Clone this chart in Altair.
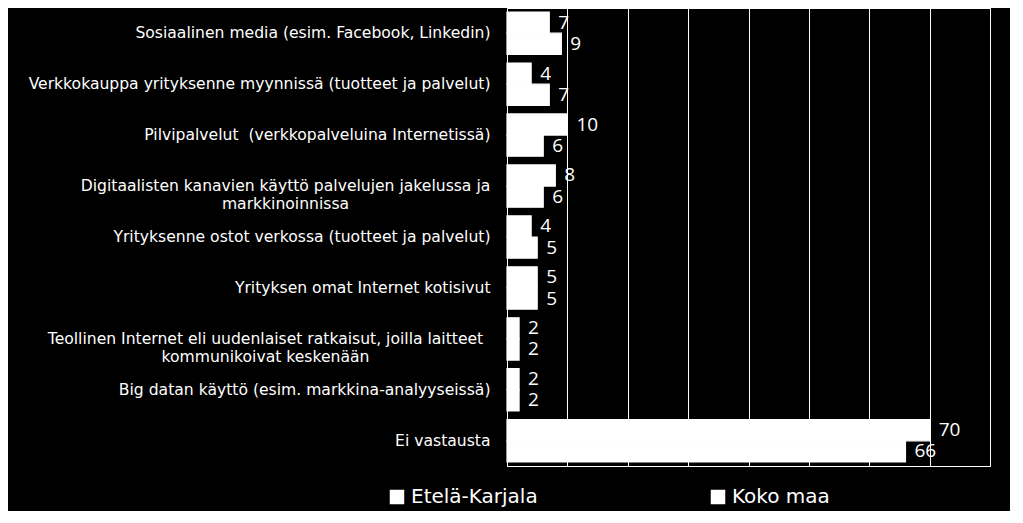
import altair as alt
import pandas as pd

categories = [
    "Sosiaalinen media (esim. Facebook, Linkedin)",
    "Verkkokauppa yrityksenne myynnissä (tuotteet ja palvelut)",
    "Pilvipalvelut\u00a0 (verkkopalveluina Internetissä)",
    "Digitaalisten kanavien käyttö palvelujen jakelussa ja|markkinoinnissa",
    "Yrityksenne ostot verkossa (tuotteet ja palvelut)",
    "Yrityksen omat Internet kotisivut",
    "Teollinen Internet eli uudenlaiset ratkaisut, joilla laitteet|kommunikoivat keskenään",
    "Big datan käyttö (esim. markkina-analyyseissä)",
    "Ei vastausta",
]
series = ["Etelä-Karjala", "Koko maa"]
etela_karjala = [7, 4, 10, 8, 4, 5, 2, 2, 70]
koko_maa = [9, 7, 6, 6, 5, 5, 2, 2, 66]
x_ticks = [0, 10, 20, 30, 40, 50, 60, 70, 80]

rows = []
for c, a, b in zip(categories, etela_karjala, koko_maa):
    rows.append({"cat": c, "series": series[0], "value": a})
    rows.append({"cat": c, "series": series[1], "value": b})
df = pd.DataFrame(rows)

y_enc = alt.Y(
    "cat:N",
    sort=categories,
    title=None,
    scale=alt.Scale(paddingInner=0.17, paddingOuter=0.08),
    axis=alt.Axis(
        ticks=False,
        domain=False,
        labelColor="white",
        labelFont="DejaVu Sans",
        labelFontSize=15.6,
        labelLimit=600,
        labelLineHeight=18,
        labelExpr="split(datum.label, '|')",
        labelAlign={
            "condition": {"test": "indexof(datum.label, '|') >= 0", "value": "center"},
            "value": "right",
        },
        labelPadding={
            "condition": [
                {"test": "indexof(datum.label, 'Digitaalisten') >= 0", "value": 222},
                {"test": "indexof(datum.label, 'Teollinen') >= 0", "value": 242},
            ],
            "value": 17,
        },
    ),
)
x_enc = alt.X(
    "value:Q",
    title=None,
    scale=alt.Scale(domain=[0, 80], nice=False),
    axis=alt.Axis(
        values=x_ticks,
        labels=False,
        ticks=False,
        domain=False,
        grid=True,
        gridColor="white",
        gridOpacity=1,
        gridWidth=1,
    ),
)

base = alt.Chart(df)

bars = base.mark_bar(color="white", stroke="white", strokeWidth=1.2).encode(
    y=y_enc,
    yOffset=alt.YOffset("series:N", sort=series),
    x=x_enc,
    color=alt.Color(
        "series:N",
        sort=series,
        scale=alt.Scale(domain=series, range=["white", "white"]),
        legend=alt.Legend(
            title=None,
            orient="none",
            direction="horizontal",
            columns=2,
            legendX=-120,
            legendY=479,
            padding=0,
            symbolType="square",
            symbolSize=169,
            symbolFillColor="white",
            symbolStrokeColor="white",
            labelColor="white",
            labelFont="DejaVu Sans",
            labelFontSize=20,
            labelOffset=4,
            columnPadding=170,
            labelLimit=300,
        ),
    ),
)

labels = base.mark_text(
    align="left", baseline="middle", dx=9, color="white", font="Open Sans", fontSize=19
).encode(
    y=alt.Y("cat:N", sort=categories),
    yOffset=alt.YOffset("series:N", sort=series),
    x=alt.X("value:Q"),
    text=alt.Text("value:Q"),
)

chart = (
    alt.layer(bars, labels)
    .properties(
        width=483,
        height=458,
        background="black",
        autosize=alt.AutoSizeParams(type="none"),
        padding={"left": 499, "top": 0, "right": 20, "bottom": 45},
    )
    .configure_view(stroke="white", strokeWidth=1)
)

chart.save("out.html", embed_options={"renderer": "svg", "actions": False})
